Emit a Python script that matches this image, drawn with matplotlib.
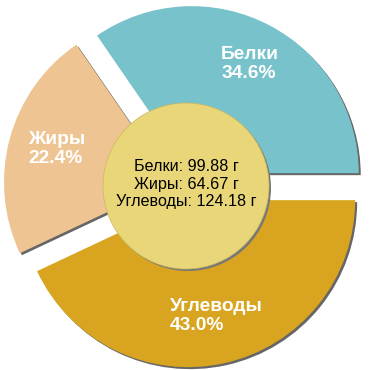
import matplotlib
matplotlib.use('Agg')
import matplotlib.pyplot as plt

# nutrient data
names = ['Белки', 'Жиры', 'Углеводы']
grams = [99.88, 64.67, 124.18]
colors = ['#78c3cb', '#eec592', '#d9a520']

total = sum(grams)
percents = [g / total * 100 for g in grams]

plt.rcParams['font.family'] = ['Liberation Sans', 'DejaVu Sans']

fig = plt.figure(figsize=(3.7, 3.7), dpi=100)
ax = fig.add_axes([0, 0, 1, 1])

cx, cy, R = 185, 184, 167
explode = [14.5] * 3  # pie offsets are in data units here

# shadow pie
ax.pie(grams, explode=explode, center=(cx + 2, cy - 2), radius=R,
       startangle=0, counterclock=True, colors=['#666666'] * 3,
       wedgeprops=dict(linewidth=0), frame=True)
# main pie
ax.pie(grams, explode=explode, center=(cx, cy), radius=R,
       startangle=0, counterclock=True, colors=colors,
       wedgeprops=dict(linewidth=0), frame=True)
ax.set_xlim(0, 370)
ax.set_ylim(0, 370)
ax.set_aspect('equal')
ax.axis('off')

# center circle
ax.add_patch(plt.Circle((cx + 3, cy - 2), 83, color='#777777', lw=0))
ax.add_patch(plt.Circle((cx + 1, cy), 83, facecolor='#e8d678', edgecolor='#c8b860', lw=0.5))

# slice labels
label_pos = [(221, 370 - 64), (28, 370 - 149), (170, 370 - 316)]
for (x, y), n, p in zip(label_pos, names, percents):
    ax.text(x, y, f'{n}\n{p:.1f}%', color='white', fontsize=13.8, fontweight='bold',
            ha='left', va='center', linespacing=1.1)

center_txt = '\n'.join(f'{n}: {g:.2f} г' for n, g in zip(names, grams))
ax.text(cx + 1, 370 - 184, center_txt, fontsize=11.6, ha='center', va='center',
        color='black', linespacing=1.17)

plt.savefig('out.png', dpi=100)
